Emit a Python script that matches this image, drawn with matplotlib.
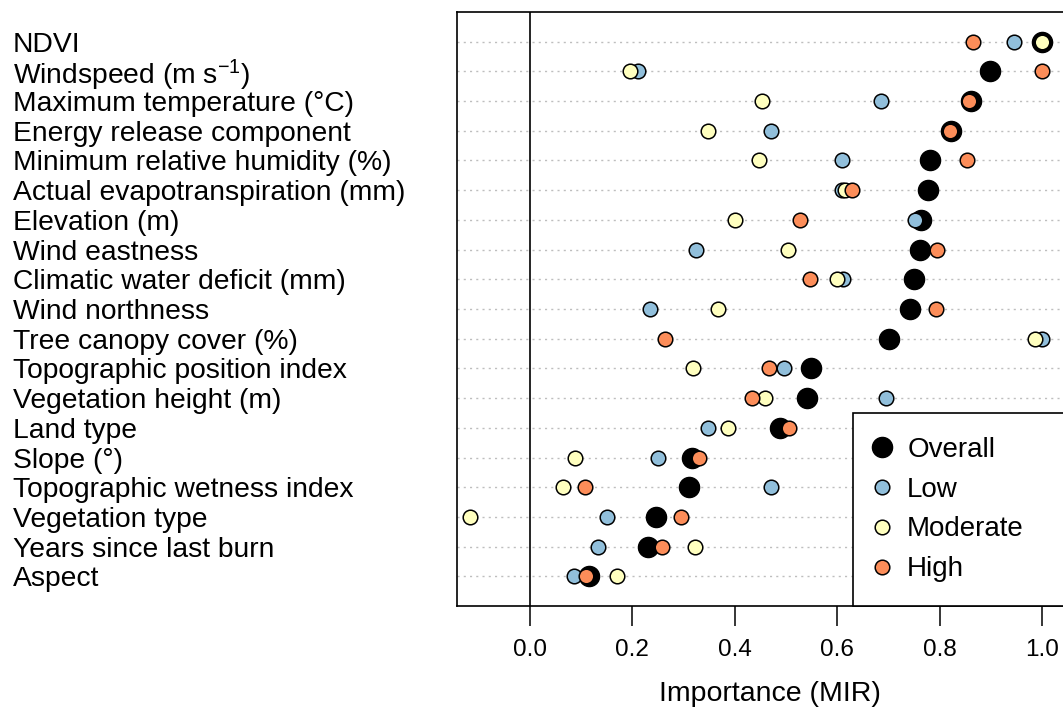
import matplotlib
matplotlib.use("Agg")
import matplotlib.pyplot as plt
from matplotlib.transforms import blended_transform_factory

plt.rcParams['font.family'] = ['Liberation Sans', 'DejaVu Sans']
plt.rcParams['mathtext.fontset'] = 'custom'
plt.rcParams['mathtext.rm'] = 'Liberation Sans'
plt.rcParams['mathtext.default'] = 'regular'

# variables, top to bottom
variables = [
    "NDVI", r"Windspeed (m s$^{-1}$)", "Maximum temperature (°C)",
    "Energy release component", "Minimum relative humidity (%)",
    "Actual evapotranspiration (mm)", "Elevation (m)", "Wind eastness",
    "Climatic water deficit (mm)", "Wind northness", "Tree canopy cover (%)",
    "Topographic position index", "Vegetation height (m)", "Land type",
    "Slope (°)", "Topographic wetness index", "Vegetation type",
    "Years since last burn", "Aspect",
]
overall = [1.000, 0.898, 0.861, 0.822, 0.781, 0.777, 0.764, 0.761, 0.749, 0.742,
           0.702, 0.548, 0.541, 0.489, 0.317, 0.310, 0.246, 0.231, 0.115]
low = [0.945, 0.210, 0.686, 0.471, 0.609, 0.610, 0.751, 0.325, 0.611, 0.235,
       1.000, 0.497, 0.695, 0.348, 0.249, 0.471, 0.151, 0.132, 0.086]
moderate = [1.000, 0.195, 0.454, 0.348, 0.448, 0.615, 0.400, 0.504, 0.600, 0.368,
            0.987, 0.319, 0.458, 0.387, 0.088, 0.065, -0.117, 0.322, 0.169]
high = [0.865, 1.000, 0.858, 0.820, 0.854, 0.629, 0.528, 0.794, 0.546, 0.792,
        0.263, 0.466, 0.433, 0.505, 0.331, 0.107, 0.295, 0.257, 0.109]
xticks = [0.0, 0.2, 0.4, 0.6, 0.8, 1.0]

n = len(variables)
ypos = list(range(n, 0, -1))

fig = plt.figure(figsize=(10.63, 7.10), dpi=100)
ax = fig.add_axes([457 / 1063, 104 / 710, 626 / 1063, 594 / 710])

# dotted row guides and the zero line
for y in ypos:
    ax.axhline(y, color='#bebebe', lw=1.0, ls=(0, (1.5, 3)), zorder=1)
ax.axvline(0, color='black', lw=1.2, zorder=2)

ms_small = 10.5
ax.plot(overall, ypos, 'o', ms=14.5, mfc='black', mec='black', mew=1.0,
        label='Overall', zorder=3)
ax.plot(low, ypos, 'o', ms=ms_small, mfc='#91bfdb', mec='black', mew=1.1,
        label='Low', zorder=4)
ax.plot(moderate, ypos, 'o', ms=ms_small, mfc='#ffffbf', mec='black', mew=1.1,
        label='Moderate', zorder=5)
ax.plot(high, ypos, 'o', ms=ms_small, mfc='#fc8d59', mec='black', mew=1.1,
        label='High', zorder=6)

ax.set_xlim(-0.1426, 1.08)
ax.set_ylim(0, n + 1)
ax.set_yticks([])
ax.set_xticks(xticks)
ax.set_xticklabels([f"{t:.1f}" for t in xticks], fontsize=17.5)
ax.tick_params(axis='x', direction='out', length=14.4, width=1.1, pad=9)
for sp in ax.spines.values():
    sp.set_linewidth(1.2)
ax.set_xlabel("Importance (MIR)", fontsize=20.5, labelpad=15)

# row labels, left aligned at the figure edge
trans = blended_transform_factory(fig.transFigure, ax.transData)
for lab, y in zip(variables, ypos):
    ax.text(13 / 1063, y, lab, transform=trans, ha='left', va='center_baseline',
            fontsize=20.3, clip_on=False)

leg = ax.legend(loc='lower left', bbox_to_anchor=(853 / 1063, 104 / 710, 0.4, 0.1),
                bbox_transform=fig.transFigure, mode='expand', borderaxespad=0,
                fontsize=20, frameon=True, fancybox=False, framealpha=1,
                edgecolor='black', borderpad=0.85, labelspacing=0.5,
                handlelength=0.4, handletextpad=0.7, numpoints=1)
leg.get_frame().set_linewidth(1.2)

fig.savefig("out.png", dpi=100)
